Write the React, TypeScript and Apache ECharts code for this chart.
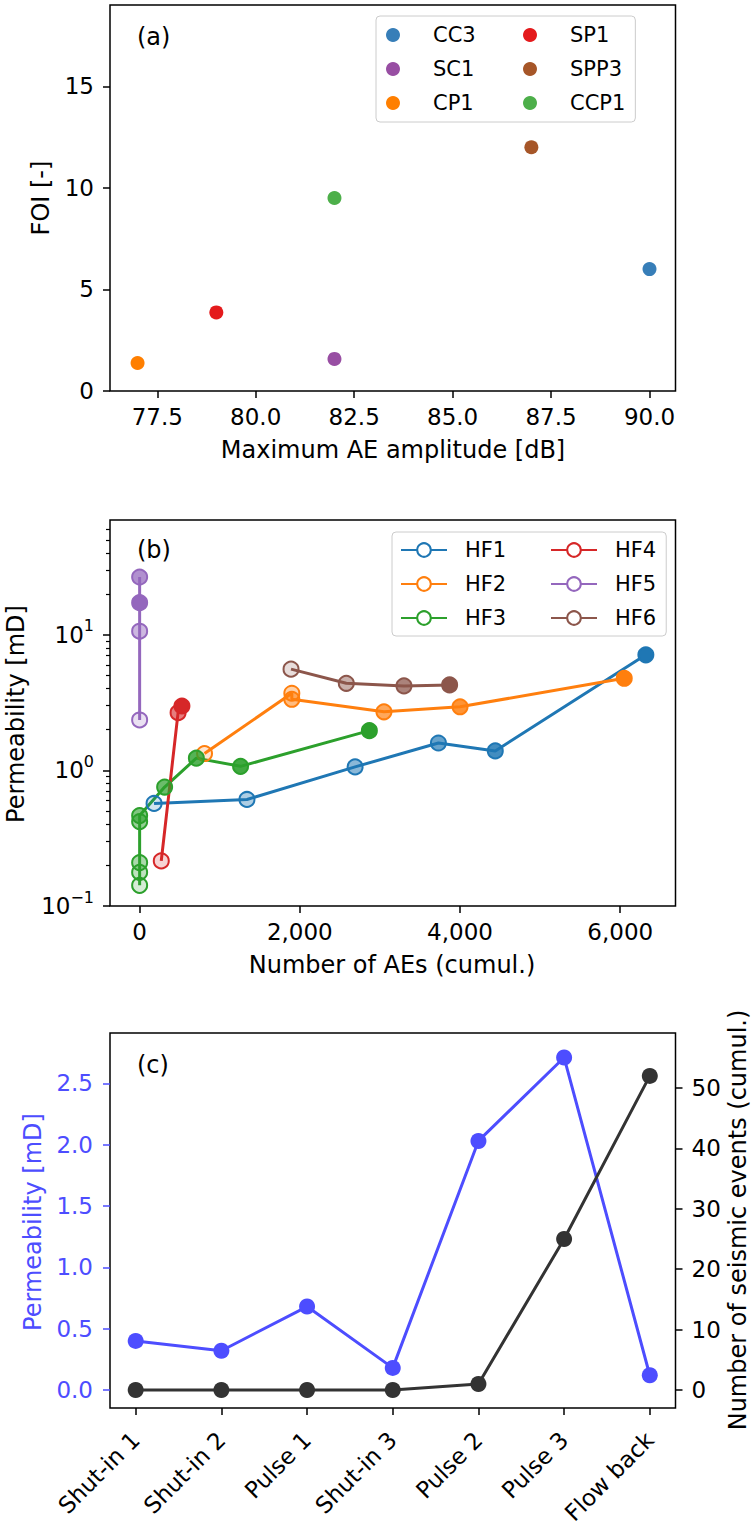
import React, { useEffect, useRef } from "react";
import * as echarts from "echarts";

const FONT = "DejaVu Sans";
const TICK_FONT = 23;
const TITLE_FONT = 24;
const LEGEND_FONT = 21;

// ---------- Panel (a): FOI vs maximum AE amplitude ----------
const aSamples = ["CC3", "SC1", "CP1", "SP1", "SPP3", "CCP1"];
const aMaxAmplitude = [90.0, 82.0, 77.0, 79.0, 87.0, 82.0];
const aFOI = [6.0, 1.58, 1.38, 3.87, 12.0, 9.5];
const aColors = ["#377eb8", "#984ea3", "#ff7f00", "#e41a1c", "#a65628", "#4daf4a"];
const aXTicks = [77.5, 80.0, 82.5, 85.0, 87.5, 90.0];
const aYTicks = [0, 5, 10, 15];

// ---------- Panel (b): permeability vs cumulative AEs ----------
const bNames = ["HF1", "HF2", "HF3", "HF4", "HF5", "HF6"];
const bColors = ["#1f77b4", "#ff7f0e", "#2ca02c", "#d62728", "#9467bd", "#8c564b"];
const hf1AEs = [180, 1340, 2690, 3730, 4440, 6320];
const hf1Perm = [0.57, 0.61, 1.06, 1.59, 1.39, 7.1];
const hf2AEs = [810, 1900, 1900, 3050, 4000, 6050];
const hf2Perm = [1.33, 3.7, 3.34, 2.7, 2.94, 4.77];
const hf3AEs = [0, 0, 0, 0, 0, 312, 708, 1260, 2868];
const hf3Perm = [0.142, 0.177, 0.209, 0.419, 0.464, 0.753, 1.23, 1.07, 1.96];
const hf4AEs = [270, 480, 528];
const hf4Perm = [0.215, 2.66, 2.98];
const hf5AEs = [0, 0, 0, 0];
const hf5Perm = [2.35, 10.6, 26.6, 17.2];
const hf6AEs = [1890, 2580, 3300, 3870];
const hf6Perm = [5.57, 4.38, 4.19, 4.26];
const bXTicks = [0, 2000, 4000, 6000];
const bMajorTicks = [0.1, 1, 10];
const bMinorTicks = [0.2, 0.3, 0.4, 0.5, 0.6, 0.7, 0.8, 0.9, 2, 3, 4, 5, 6, 7, 8, 9, 20, 30, 40, 50, 60];

// ---------- Panel (c): permeability & seismic events per stage ----------
const cStages = ["Shut-in 1", "Shut-in 2", "Pulse 1", "Shut-in 3", "Pulse 2", "Pulse 3", "Flow back"];
const cPerm = [0.4, 0.32, 0.68, 0.18, 2.03, 2.71, 0.12];
const cSeismic = [0, 0, 0, 0, 1, 25, 52];
const cPermTicks = [0, 0.5, 1.0, 1.5, 2.0, 2.5];
const cSeisTicks = [0, 10, 20, 30, 40, 50];

const BLUE = "#4d4dff";
const DARK = "#333333";

const hexToRgba = (hex: string, a: number) => {
  const n = parseInt(hex.slice(1), 16);
  return `rgba(${(n >> 16) & 255},${(n >> 8) & 255},${n & 255},${a})`;
};

const tickLine = { color: "#000", width: 1.5 };

function baseAxis(extra: any) {
  return {
    axisLine: { show: false, onZero: false },
    splitLine: { show: false },
    ...extra,
  };
}

function titleText(x: number, y: number, text: string, rotate = false, color = "#000", align = "center") {
  return {
    type: "text",
    x,
    y,
    rotation: rotate ? Math.PI / 2 : 0,
    silent: true,
    style: {
      text,
      fill: color,
      fontSize: TITLE_FONT,
      fontFamily: FONT,
      align,
      verticalAlign: "middle",
    },
  };
}

// legend entries: first column gets a fixed text width so the second column lands right
function legendItems(names: string[], firstColWidth: number, pad: number) {
  return names.map((name, i) => ({
    name,
    textStyle:
      i < 3
        ? { width: firstColWidth, padding: [0, 0, 0, pad] }
        : { padding: [0, 0, 0, pad] },
  }));
}

function buildOption() {
  const gridCommon = {
    show: true,
    borderColor: "#000",
    borderWidth: 1.5,
    backgroundColor: "transparent",
    containLabel: false,
    outerBoundsMode: "none",
  };

  const bData = [
    [hf1AEs, hf1Perm],
    [hf2AEs, hf2Perm],
    [hf3AEs, hf3Perm],
    [hf4AEs, hf4Perm],
    [hf5AEs, hf5Perm],
    [hf6AEs, hf6Perm],
  ];

  const labelCommon = { color: "#000", fontSize: TICK_FONT, fontFamily: FONT };

  return {
    animation: false,
    backgroundColor: "#fff",
    textStyle: { fontFamily: FONT },
    grid: [
      { ...gridCommon, left: 110, top: 5, width: 565.5, height: 386 },
      { ...gridCommon, left: 110, top: 520, width: 565.5, height: 386 },
      { ...gridCommon, left: 110, top: 1033, width: 565.5, height: 375 },
    ],
    xAxis: [
      baseAxis({
        gridIndex: 0,
        type: "value",
        min: 76.3,
        max: 90.66,
        axisTick: { show: true, length: 7, lineStyle: tickLine, customValues: aXTicks },
        axisLabel: { ...labelCommon, margin: 14, customValues: aXTicks, formatter: (v: number) => v.toFixed(1) },
      }),
      baseAxis({
        gridIndex: 1,
        type: "value",
        min: -370,
        max: 6690,
        axisTick: { show: true, length: 7, lineStyle: tickLine, customValues: bXTicks },
        axisLabel: { ...labelCommon, margin: 14, customValues: bXTicks, formatter: (v: number) => v.toLocaleString("en-US") },
      }),
      baseAxis({
        gridIndex: 2,
        type: "value",
        min: -0.3,
        max: 6.3,
        axisTick: { show: true, length: 7, lineStyle: tickLine, customValues: cStages.map((_, i) => i) },
        axisLabel: {
          ...labelCommon,
          margin: 28,
          rotate: 45,
          customValues: cStages.map((_, i) => i),
          formatter: (v: number) => cStages[Math.round(v)] ?? "",
        },
      }),
    ],
    yAxis: [
      baseAxis({
        gridIndex: 0,
        type: "value",
        min: 0,
        max: 19,
        position: "left",
        axisTick: { show: true, length: 7, lineStyle: tickLine, customValues: aYTicks },
        axisLabel: { ...labelCommon, margin: 16, customValues: aYTicks, formatter: (v: number) => String(v) },
      }),
      baseAxis({
        gridIndex: 1,
        type: "log",
        logBase: 10,
        min: 0.1,
        max: 70,
        position: "left",
        axisTick: { show: false },
        minorTick: { show: false },
        axisLabel: {
          ...labelCommon,
          margin: 16,
          lineHeight: 34,
          showMaxLabel: false,
          formatter: (v: number) => {
            const e = Math.round(Math.log10(v));
            return `10{sup|${e < 0 ? "\u2212" + -e : e}}`;
          },
          rich: {
            sup: { fontSize: 16, fontFamily: FONT, color: "#000", verticalAlign: "top", lineHeight: 16 },
          },
        },
      }),
      baseAxis({
        gridIndex: 1,
        type: "value",
        min: Math.log10(0.1),
        max: Math.log10(70),
        position: "left",
        axisTick: { show: true, length: 7, lineStyle: tickLine, customValues: bMajorTicks.map((v) => Math.log10(v)) },
        axisLabel: { show: false },
      }),
      baseAxis({
        gridIndex: 1,
        type: "value",
        min: Math.log10(0.1),
        max: Math.log10(70),
        position: "left",
        axisTick: { show: true, length: 4, lineStyle: { color: "#000", width: 1.2 }, customValues: bMinorTicks.map((v) => Math.log10(v)) },
        axisLabel: { show: false },
      }),
      baseAxis({
        gridIndex: 2,
        type: "value",
        min: -0.147,
        max: 2.91,
        position: "left",
        axisTick: { show: true, length: 7, lineStyle: { color: BLUE, width: 1.5 }, customValues: cPermTicks },
        axisLabel: { ...labelCommon, color: BLUE, margin: 17, customValues: cPermTicks, formatter: (v: number) => v.toFixed(1) },
      }),
      baseAxis({
        gridIndex: 2,
        type: "value",
        min: -2.98,
        max: 59.1,
        position: "right",
        axisTick: { show: true, length: 7, lineStyle: tickLine, customValues: cSeisTicks },
        axisLabel: { ...labelCommon, margin: 16, customValues: cSeisTicks, formatter: (v: number) => String(v) },
      }),
    ],
    legend: [
      {
        data: legendItems(aSamples, 80, 14),
        orient: "vertical",
        left: 376,
        top: 16,
        height: 110,
        padding: [7, 10, 7, 10],
        itemWidth: 42,
        itemHeight: 14,
        itemGap: 10,
        selectedMode: false,
        backgroundColor: "rgba(255,255,255,0.8)",
        borderColor: "#cccccc",
        borderWidth: 1,
        borderRadius: 4,
        textStyle: { fontSize: LEGEND_FONT, fontFamily: FONT, color: "#000", lineHeight: 24 },
      },
      {
        data: legendItems(bNames, 75, 13),
        orient: "vertical",
        left: 392,
        top: 532,
        height: 110,
        padding: [6, 10, 6, 8],
        itemWidth: 46,
        itemHeight: 17,
        itemGap: 10,
        selectedMode: false,
        backgroundColor: "rgba(255,255,255,0.8)",
        borderColor: "#cccccc",
        borderWidth: 1,
        borderRadius: 4,
        textStyle: { fontSize: LEGEND_FONT, fontFamily: FONT, color: "#000", lineHeight: 24 },
      },
    ],
    graphic: [
      titleText(393, 450, "Maximum AE amplitude [dB]"),
      titleText(41, 198, "FOI [-]", true),
      titleText(392, 965, "Number of AEs (cumul.)"),
      titleText(16, 714, "Permeability [mD]", true),
      titleText(33, 1222, "Permeability [mD]", true, BLUE),
      titleText(738, 1220, "Number of seismic events (cumul.)", true),
      titleText(137, 37, "(a)", false, "#000", "left"),
      titleText(137, 550, "(b)", false, "#000", "left"),
      titleText(137, 1065, "(c)", false, "#000", "left"),
    ],
    series: [
      ...aSamples.map((name, i) => ({
        type: "scatter",
        name,
        xAxisIndex: 0,
        yAxisIndex: 0,
        symbol: "circle",
        symbolSize: 14,
        data: [[aMaxAmplitude[i], aFOI[i]]],
        itemStyle: { color: aColors[i], opacity: 1 },
        emphasis: { disabled: true },
      })),
      ...bNames.map((name, k) => {
        const [xs, ys] = bData[k];
        const n = xs.length;
        return {
          type: "line",
          name,
          xAxisIndex: 1,
          yAxisIndex: 1,
          symbol: "circle",
          symbolSize: 15,
          showAllSymbol: true,
          data: xs.map((x, i) => ({
            value: [x, ys[i]],
            itemStyle: { color: hexToRgba(bColors[k], n > 1 ? 0.2 + (0.8 * i) / (n - 1) : 1) },
          })),
          lineStyle: { color: bColors[k], width: 3 },
          itemStyle: { color: "#ffffff", borderColor: bColors[k], borderWidth: 2 },
          emphasis: { disabled: true },
        };
      }),
      {
        type: "line",
        name: "Permeability",
        xAxisIndex: 2,
        yAxisIndex: 4,
        symbol: "circle",
        symbolSize: 16,
        data: cPerm.map((v, i) => [i, v]),
        lineStyle: { color: BLUE, width: 3 },
        itemStyle: { color: BLUE },
        emphasis: { disabled: true },
      },
      {
        type: "line",
        name: "Seismic events",
        xAxisIndex: 2,
        yAxisIndex: 5,
        symbol: "circle",
        symbolSize: 16,
        data: cSeismic.map((v, i) => [i, v]),
        lineStyle: { color: DARK, width: 3 },
        itemStyle: { color: DARK },
        emphasis: { disabled: true },
      },
    ],
  };
}

export default function App() {
  const ref = useRef<HTMLDivElement>(null);
  useEffect(() => {
    if (!ref.current) return;
    const chart = echarts.init(ref.current, null, { renderer: "svg" });
    chart.setOption(buildOption() as any);
    return () => chart.dispose();
  }, []);
  return (
    <div
      ref={ref}
      style={{ position: "absolute", left: 0, top: 0, width: 751, height: 1539, background: "#fff" }}
    />
  );
}
